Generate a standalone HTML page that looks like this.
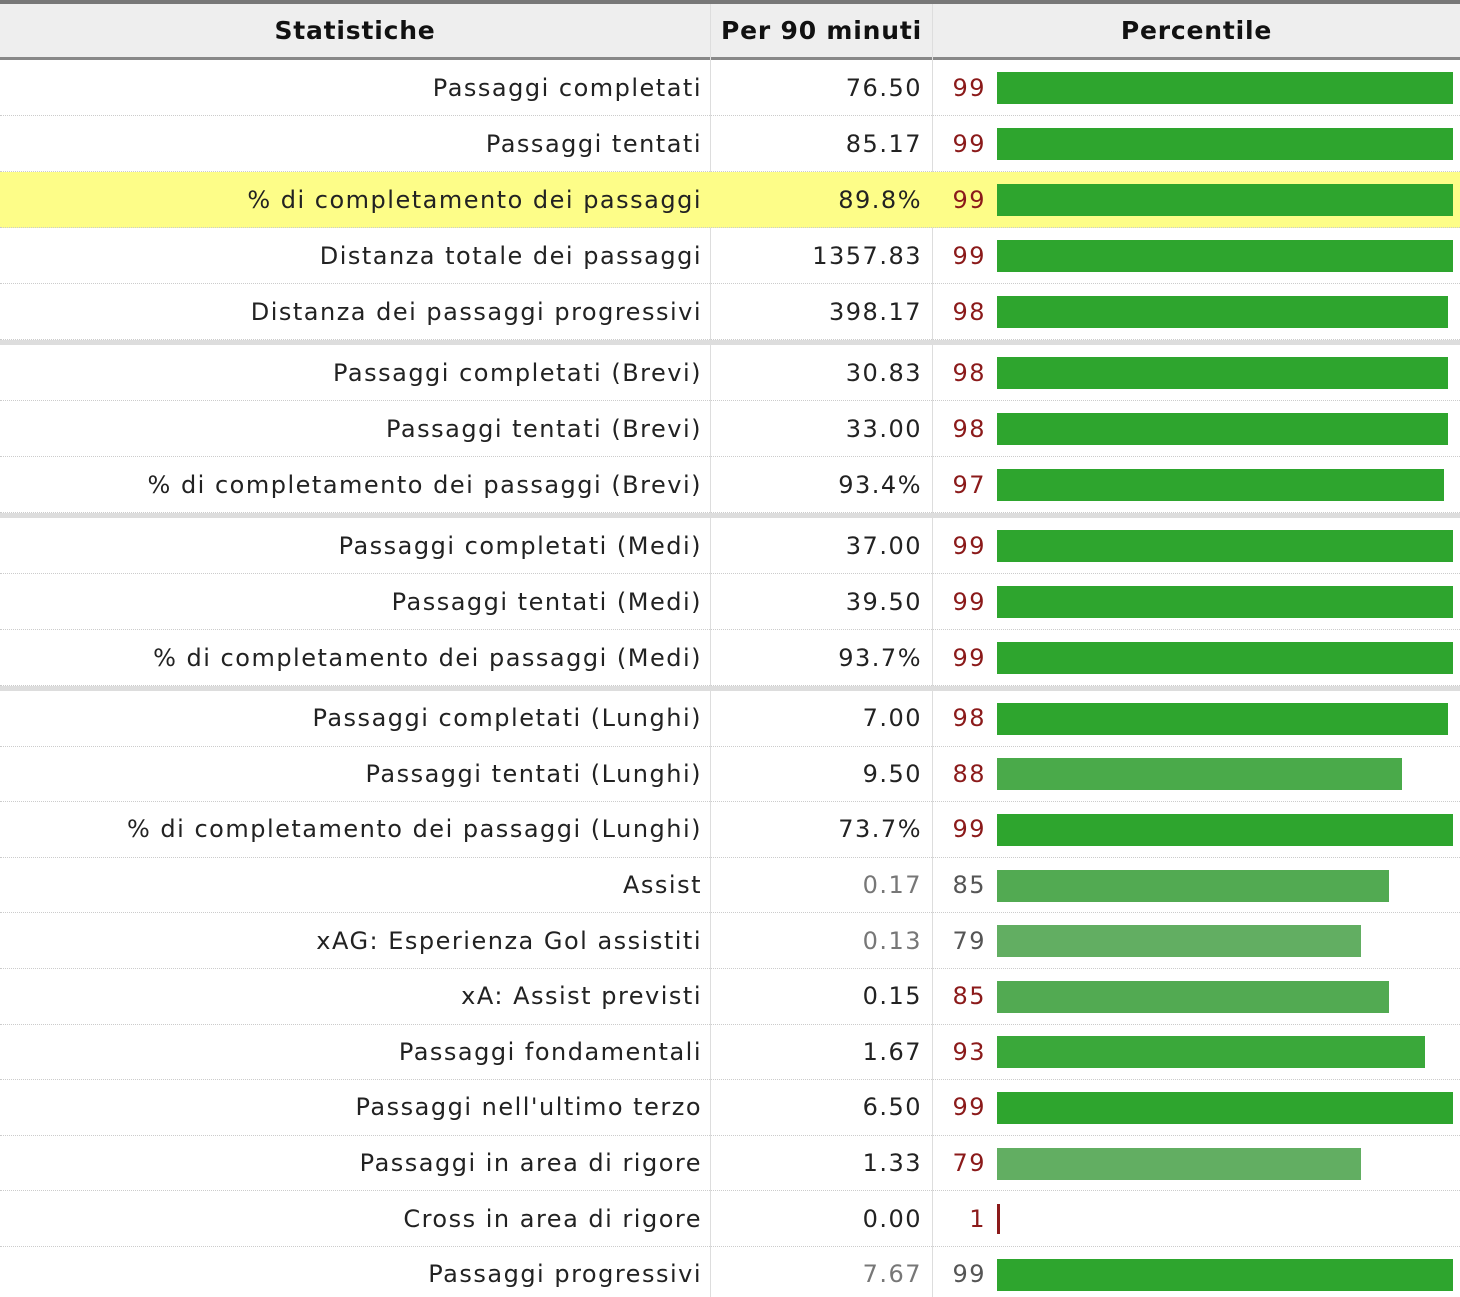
<!DOCTYPE html>
<html><head><meta charset="utf-8">
<style>
html,body{margin:0;padding:0;background:#fff;}
#wrap{position:relative;width:1460px;height:1297px;overflow:hidden;font-family:"DejaVu Sans","Liberation Sans",sans-serif;font-size:24px;color:#222;letter-spacing:1.5px;}
.topbar{position:absolute;left:0;top:0;width:1460px;height:4px;background:#777;}
.hdr{position:absolute;top:4px;height:54px;background:#eee;font-weight:bold;line-height:54px;text-align:center;color:#111;letter-spacing:0.8px;font-size:25px;}
.hline{position:absolute;left:0;top:57px;width:1460px;height:3px;background:#888;}
.row{position:absolute;left:0;width:1460px;border-bottom:1px dotted #ccc;box-sizing:border-box;}
.sep{position:absolute;left:0;width:1460px;height:5px;background:#ddd;}
.cell{position:absolute;top:0;height:100%;display:flex;align-items:center;justify-content:flex-end;white-space:nowrap;}
.vline{position:absolute;top:4px;width:1px;height:1293px;background:#ddd;}
.bar{position:absolute;}
</style></head>
<body>
<div id="wrap">
<div class="topbar"></div>
<div class="hdr" style="left:0;width:710px">Statistiche</div>
<div class="hdr" style="left:711px;width:221px">Per 90 minuti</div>
<div class="hdr" style="left:933px;width:527px">Percentile</div>
<div class="hline"></div>
<div class="vline" style="left:710px"></div>
<div class="vline" style="left:932px"></div>
</div>
<script>
const labels=["Passaggi completati","Passaggi tentati","% di completamento dei passaggi","Distanza totale dei passaggi","Distanza dei passaggi progressivi","Passaggi completati (Brevi)","Passaggi tentati (Brevi)","% di completamento dei passaggi (Brevi)","Passaggi completati (Medi)","Passaggi tentati (Medi)","% di completamento dei passaggi (Medi)","Passaggi completati (Lunghi)","Passaggi tentati (Lunghi)","% di completamento dei passaggi (Lunghi)","Assist","xAG: Esperienza Gol assistiti","xA: Assist previsti","Passaggi fondamentali","Passaggi nell'ultimo terzo","Passaggi in area di rigore","Cross in area di rigore","Passaggi progressivi"];
const values=["76.50","85.17","89.8%","1357.83","398.17","30.83","33.00","93.4%","37.00","39.50","93.7%","7.00","9.50","73.7%","0.17","0.13","0.15","1.67","6.50","1.33","0.00","7.67"];
const percentiles=[99,99,99,99,98,98,98,97,99,99,99,98,88,99,85,79,85,93,99,79,1,99];
const grayValue=[14,15,21];
const grayPct=[14,15,21];
const highlight=[2];
const groupBreaks=[5,8,11];

const wrap=document.getElementById('wrap');
const barX=997, barScale=456/99;
function pctColor(p){ if(p>=97) return '#2ea52e'; if(p>=90) return '#3aa83a'; if(p>=86) return '#4aaa4a'; if(p>=82) return '#52aa52'; if(p>=50) return '#62ae62'; return '#8b1a1a'; }
let y=60;
labels.forEach((lab,i)=>{
  if(groupBreaks.includes(i)){
    const s=document.createElement('div'); s.className='sep'; s.style.top=y+'px';
    
    
    wrap.appendChild(s); y+=5;
  }
  const h = i>=11 ? 55.6 : 56;
  const r=document.createElement('div'); r.className='row'; r.style.top=y+'px'; r.style.height=h+'px';
  if(highlight.includes(i)) r.style.background='#fdfd88';
  
  
  const c1=document.createElement('div'); c1.className='cell'; c1.style.left='0'; c1.style.width='702px'; c1.textContent=lab;
  
  
  const c2=document.createElement('div'); c2.className='cell'; c2.style.left='711px'; c2.style.width='211px'; c2.textContent=values[i];
  if(grayValue.includes(i)) c2.style.color='#777';
  
  
  const c3=document.createElement('div'); c3.className='cell'; c3.style.left='933px'; c3.style.width='53px'; c3.textContent=percentiles[i];
  c3.style.color=grayPct.includes(i)?'#555':'#8b1a1a';
  
  
  const b=document.createElement('div'); b.className='bar';
  const p=percentiles[i];
  b.style.left=barX+'px';
  if(p<=2){ b.style.width='3px'; b.style.top=(h/2-15)+'px'; b.style.height='30px'; b.style.background='#8b1a1a'; }
  else { b.style.width=(p*barScale)+'px'; b.style.top=(h/2-16)+'px'; b.style.height='32px'; b.style.background=pctColor(p); }
  
  
  r.appendChild(c1); r.appendChild(c2); r.appendChild(c3); r.appendChild(b);
  wrap.appendChild(r);
  y+=h;
});
</script>
</body></html>
